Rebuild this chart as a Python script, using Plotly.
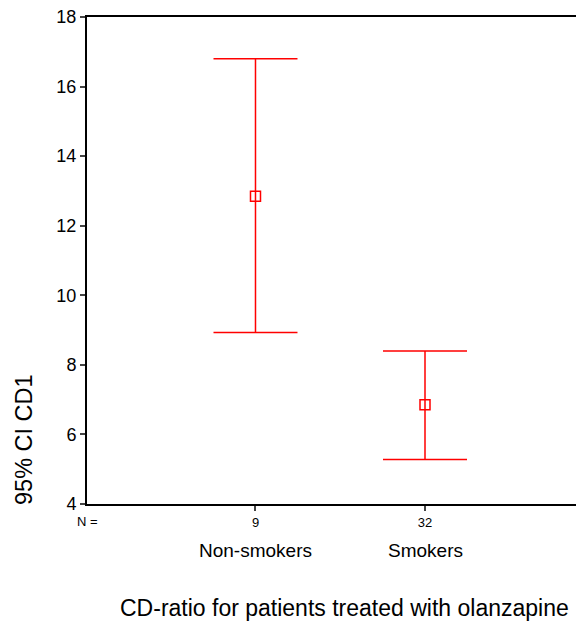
import plotly.graph_objects as go

categories = ["Non-smokers", "Smokers"]
n_values = ["9", "32"]
means = [12.85, 6.85]
upper = [16.8, 8.4]
lower = [8.93, 5.28]

xpos = [1, 2]
err_plus = [u - m for u, m in zip(upper, means)]
err_minus = [m - l for m, l in zip(means, lower)]

FONT = "Arial, Liberation Sans, sans-serif"
RED = "#ff0000"

PLOT_H = 615 - 9 - 119  # plot area height in px

fig = go.Figure()
fig.add_trace(go.Scatter(
    x=xpos, y=means, mode="markers",
    marker=dict(symbol="square-open", size=10, color=RED, line=dict(width=1.5, color=RED)),
    error_y=dict(type="data", symmetric=False, array=err_plus, arrayminus=err_minus,
                 color=RED, thickness=1.5, width=42),
    showlegend=False,
))

# page body has an 8px margin, so the figure is offset by (8, 8)
fig.update_layout(
    width=576, height=615,
    margin=dict(l=79, r=0, t=9, b=119, autoexpand=False),
    paper_bgcolor="white", plot_bgcolor="white",
    font=dict(family=FONT, color="black"),
    xaxis=dict(range=[0.006, 2.938], tickmode="array", tickvals=xpos, ticktext=n_values,
               tickfont=dict(size=13), ticks="outside", ticklen=5, tickwidth=1.5,
               showline=True, linewidth=2, linecolor="black", mirror=True,
               showgrid=False, zeroline=False),
    yaxis=dict(range=[4, 18], tickmode="array", tickvals=[4, 6, 8, 10, 12, 14, 16, 18],
               tickfont=dict(size=18), ticks="outside", ticklen=5, tickwidth=1.5,
               ticklabeloverflow="allow", automargin=False,
               showline=True, linewidth=2, linecolor="black",
               showgrid=False, zeroline=False),
)

ann = []
ann.append(dict(text="N =", x=0, xref="paper", y=(504 - 521) / PLOT_H, yref="paper",
                showarrow=False, xanchor="center", yanchor="middle", font=dict(size=13)))
for xp, c in zip(xpos, categories):
    ann.append(dict(text=c, x=xp, xref="x", y=(504 - 550) / PLOT_H, yref="paper",
                    showarrow=False, xanchor="center", yanchor="middle", font=dict(size=19)))
ann.append(dict(text="CD-ratio for patients treated with olanzapine", x=(118 - 87) / 497, xref="paper",
                y=(504 - 608) / PLOT_H, yref="paper", showarrow=False, xanchor="left",
                yanchor="middle", font=dict(size=23)))
ann.append(dict(text="95% CI CD1", x=(24 - 87) / 497, xref="paper", y=(504 - 440) / PLOT_H, yref="paper",
                showarrow=False, xanchor="center", yanchor="middle", textangle=-90, font=dict(size=23.5)))
fig.update_layout(annotations=ann)

fig.write_html("out.html")
